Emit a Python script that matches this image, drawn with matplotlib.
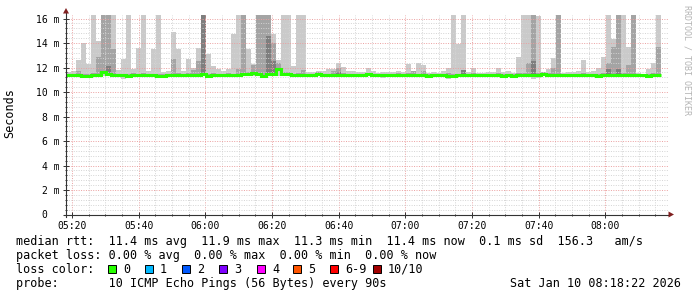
import numpy as np
import matplotlib
matplotlib.use('Agg')
import matplotlib.pyplot as plt
from matplotlib.patches import Rectangle, Polygon
from matplotlib.transforms import ScaledTranslation

# --- data (ms), one value per 90 s step starting 05:18:12 ---
median = [11.35, 11.35, 11.35, 11.30, 11.30, 11.35, 11.35, 11.65, 11.45, 11.37,
          11.37, 11.37, 11.32, 11.40, 11.40, 11.42, 11.42, 11.35, 11.30, 11.30,
          11.35, 11.40, 11.40, 11.35, 11.40, 11.40, 11.40, 11.45, 11.30, 11.40,
          11.40, 11.40, 11.40, 11.35, 11.35, 11.45, 11.45, 11.55, 11.45, 11.30,
          11.50, 11.50, 11.90, 11.45, 11.45, 11.35, 11.40, 11.40, 11.37, 11.37,
          11.50, 11.35, 11.37, 11.37, 11.37, 11.37, 11.37, 11.37, 11.35, 11.40,
          11.45, 11.40, 11.40, 11.35, 11.40, 11.40, 11.40, 11.37, 11.40, 11.40,
          11.37, 11.40, 11.30, 11.37, 11.40, 11.40, 11.33, 11.33, 11.40, 11.37,
          11.40, 11.40, 11.37, 11.40, 11.40, 11.37, 11.40, 11.32, 11.35, 11.30,
          11.40, 11.40, 11.40, 11.35, 11.40, 11.45, 11.40, 11.37, 11.40, 11.40,
          11.40, 11.37, 11.40, 11.40, 11.42, 11.40, 11.30, 11.37, 11.42, 11.40,
          11.40, 11.40, 11.37, 11.40, 11.35, 11.37, 11.30, 11.40, 11.37]

# lowest ping
ping_min = [11.25, 11.25, 11.25, 11.20, 11.22, 11.25, 11.25, 11.30, 11.30, 11.28,
            11.28, 11.10, 11.22, 11.30, 11.30, 11.32, 11.32, 11.25, 11.20, 11.22,
            11.25, 11.30, 11.30, 11.25, 11.30, 11.30, 11.30, 11.30, 11.20, 11.30,
            11.30, 11.30, 11.30, 11.25, 11.25, 11.30, 11.30, 11.30, 11.30, 11.20,
            11.30, 11.30, 11.30, 11.30, 11.30, 11.25, 11.30, 11.30, 11.28, 11.28,
            11.30, 11.25, 11.28, 11.28, 11.28, 11.28, 11.28, 11.28, 11.25, 11.30,
            11.30, 11.30, 11.30, 11.15, 11.30, 11.30, 11.30, 11.28, 11.30, 11.30,
            11.28, 11.30, 11.20, 11.28, 11.30, 11.30, 11.10, 11.22, 11.30, 11.28,
            11.30, 11.30, 11.28, 11.30, 11.20, 11.28, 11.30, 11.22, 11.25, 11.20,
            11.30, 11.30, 11.30, 11.10, 11.15, 11.30, 11.30, 11.28, 11.30, 11.30,
            11.30, 11.28, 11.30, 11.30, 11.30, 11.30, 11.20, 11.28, 11.30, 11.30,
            11.30, 11.30, 11.28, 11.30, 11.25, 11.28, 11.15, 11.30, 11.28]

# highest ping (10th of 10)
ping_max = [11.65, 11.75, 12.60, 14.00, 12.25, 16.50, 14.20, 16.50, 16.50, 16.50,
            11.80, 12.70, 16.50, 11.90, 13.60, 16.50, 11.70, 13.50, 16.50, 11.65,
            11.70, 14.90, 13.50, 11.70, 12.70, 12.00, 13.60, 16.50, 13.10, 12.10,
            11.90, 11.70, 11.90, 14.70, 16.50, 16.50, 13.50, 12.30, 16.50, 16.50,
            16.50, 14.70, 12.60, 16.50, 16.50, 12.10, 16.50, 16.50, 11.65, 11.60,
            11.70, 11.70, 11.85, 11.90, 12.40, 12.05, 11.70, 11.75, 11.60, 11.60,
            12.00, 11.75, 11.55, 11.60, 11.60, 11.65, 11.70, 11.65, 12.30, 11.75,
            12.40, 12.20, 11.55, 11.60, 11.55, 11.75, 12.00, 16.50, 13.95, 16.50,
            11.65, 12.00, 11.55, 11.55, 11.65, 11.60, 12.00, 11.60, 11.75, 11.55,
            12.85, 16.50, 16.50, 16.50, 16.20, 11.65, 11.90, 12.80, 16.50, 11.55,
            11.60, 11.65, 11.70, 12.65, 11.65, 11.75, 12.00, 12.90, 16.50, 14.30,
            16.50, 16.50, 13.70, 16.50, 11.55, 11.50, 11.90, 12.40, 16.50]

# 9th ping
ping_9 = [11.50, 11.50, 11.70, 11.50, 11.45, 11.55, 12.90, 16.50, 16.50, 13.50,
          11.50, 11.50, 11.50, 11.55, 11.50, 11.55, 11.50, 11.50, 11.45, 11.45,
          11.50, 12.70, 11.55, 11.50, 11.55, 11.80, 12.50, 16.50, 11.45, 11.55,
          11.50, 11.50, 11.55, 11.50, 11.90, 16.50, 11.60, 12.20, 16.50, 16.50,
          16.50, 14.00, 12.40, 11.60, 11.60, 11.50, 11.55, 11.80, 11.50, 11.50,
          11.60, 11.50, 11.50, 11.70, 12.00, 11.55, 11.50, 11.50, 11.50, 11.50,
          11.55, 11.50, 11.50, 11.45, 11.50, 11.50, 11.55, 11.50, 11.55, 11.70,
          11.50, 11.70, 11.45, 11.50, 11.50, 11.50, 11.55, 11.50, 11.50, 11.80,
          11.50, 11.55, 11.50, 11.50, 11.50, 11.50, 11.55, 11.45, 11.50, 11.45,
          11.55, 11.55, 12.40, 16.50, 11.55, 11.60, 11.55, 12.00, 16.50, 11.50,
          11.50, 11.50, 11.50, 11.55, 11.50, 11.50, 11.45, 11.55, 12.40, 13.70,
          16.50, 11.55, 12.20, 16.50, 11.45, 11.45, 11.50, 11.55, 13.70]

# 8th ping
ping_8 = [11.42, 11.42, 11.42, 11.38, 11.38, 11.42, 11.45, 11.75, 12.10, 11.45,
          11.45, 11.45, 11.40, 11.48, 11.48, 11.50, 11.48, 11.42, 11.38, 11.38,
          11.42, 11.50, 11.48, 11.42, 11.48, 11.48, 11.50, 16.50, 11.38, 11.48,
          11.48, 11.48, 11.48, 11.42, 11.42, 11.55, 11.52, 11.62, 11.55, 11.40,
          14.60, 12.50, 11.98, 11.52, 11.52, 11.42, 11.48, 11.48, 11.45, 11.45,
          11.58, 11.42, 11.45, 11.45, 11.60, 11.45, 11.45, 11.45, 11.42, 11.48,
          11.52, 11.48, 11.48, 11.42, 11.48, 11.48, 11.48, 11.45, 11.48, 11.48,
          11.45, 11.48, 11.38, 11.45, 11.48, 11.48, 11.40, 11.40, 11.48, 11.80,
          11.48, 11.48, 11.45, 11.48, 11.48, 11.45, 11.48, 11.40, 11.42, 11.38,
          11.48, 11.48, 11.48, 12.50, 11.48, 11.52, 11.48, 11.45, 11.48, 11.48,
          11.48, 11.45, 11.48, 11.48, 11.50, 11.48, 11.38, 11.45, 11.90, 11.48,
          11.90, 11.48, 11.45, 11.48, 11.42, 11.45, 11.38, 11.48, 11.45]

start_min = 18.2      # 05:18:12, minutes after 05:00
step_min = 1.5        # 90 s
x_ticks = [20, 40, 60, 80, 100, 120, 140, 160, 180]
x_labels = ['05:20', '05:40', '06:00', '06:20', '06:40', '07:00', '07:20', '07:40', '08:00']
y_ticks = [0, 2, 4, 6, 8, 10, 12, 14, 16]
y_labels = ['0', '2 m', '4 m', '6 m', '8 m', '10 m', '12 m', '14 m', '16 m']

rtt_stats = ['11.4 ms avg', '11.9 ms max', '11.3 ms min', '11.4 ms now', '0.1 ms sd']
loss_stats = ['0.00 % avg', '0.00 % max', '0.00 % min', '0.00 % now']
loss_names = ['0', '1', '2', '3', '4', '5', '6-9', '10/10']
loss_colors = ['#26ff00', '#00b8ff', '#0059ff', '#7e00ff', '#ff00ff', '#ff5500', '#ff0000', '#a10000']
smoke_colors = ['#cacaca', '#a4a4a4', '#7e7e7e']

W, H = 697, 297
fig = plt.figure(figsize=(W / 100, H / 100), dpi=100)
fig.patch.set_facecolor('white')


def fx(px):
    return px / W


def fy(py):
    return 1 - py / H


AX_L, AX_R, AX_T, AX_B = 66, 668, 15, 214.5
ax = fig.add_axes([fx(AX_L), fy(AX_B), (AX_R - AX_L) / W, (AX_B - AX_T) / H])

n = len(median)
edges = start_min + step_min * np.arange(n + 1)


def ext(a):
    a = np.asarray(a, dtype=float)
    return np.append(a, a[-1])


# smoke bands, outer (light) to inner (dark)
ax.fill_between(edges, ext(ping_min), ext(ping_max), step='post',
                color=smoke_colors[0], linewidth=0, zorder=1)
ax.fill_between(edges, ext(median), ext(ping_9), step='post',
                color=smoke_colors[1], linewidth=0, zorder=1.1)
ax.fill_between(edges, ext(median), ext(ping_8), step='post',
                color=smoke_colors[2], linewidth=0, zorder=1.2)

ax.step(edges, ext(median), where='post', color=loss_colors[0], lw=2.2,
        solid_joinstyle='miter', solid_capstyle='butt', zorder=4)

ax.set_xlim(start_min, start_min + 602 / 3.3333)
ax.set_ylim(0, 16.29)

ax.set_xticks(x_ticks)
ax.set_xticklabels(x_labels)
ax.set_xticks(np.arange(20, 199, 5), minor=True)
ax.set_yticks(y_ticks)
ax.set_yticklabels(y_labels)
ax.set_yticks(np.arange(0, 16.3, 0.4), minor=True)

ax.grid(which='minor', color='#d4d4d4', linestyle=(0, (1, 1.5)), linewidth=0.7)
ax.grid(which='major', color='#eba0a0', linestyle=(0, (1, 1.5)), linewidth=0.7)
ax.set_axisbelow(False)
for gl in ax.get_xgridlines() + ax.get_ygridlines():
    gl.set_zorder(3)

for s in ax.spines.values():
    s.set_visible(False)

tick_font = dict(family='DejaVu Sans Mono', size=7)
ax.tick_params(which='major', direction='inout', length=4, width=0.7, color='#333333',
               pad=2.5, labelsize=7)
ax.tick_params(which='minor', direction='inout', length=2, width=0.7, color='#333333')
for lab in ax.get_xticklabels() + ax.get_yticklabels():
    lab.set_fontfamily('DejaVu Sans Mono')
# the "0" label sits two character widths further left
zero = ax.get_yticklabels()[0]
zero.set_transform(zero.get_transform() + ScaledTranslation(-0.13, 0, fig.dpi_scale_trans))

# axis lines with arrows
ax.plot([0, 0], [-2 / 199.5, 1 + 4 / 199.5], transform=ax.transAxes, color='#333333',
        lw=0.8, clip_on=False, zorder=5)
ax.plot([-2 / 602, 1 + 2 / 602], [0, 0], transform=ax.transAxes, color='#333333',
        lw=0.8, clip_on=False, zorder=5)
fig.add_artist(Polygon([[fx(66), fy(8)], [fx(63), fy(13.5)], [fx(69), fy(13.5)]],
                       closed=True, transform=fig.transFigure, color='#801f1f', lw=0))
fig.add_artist(Polygon([[fx(674), fy(214.5)], [fx(668.5), fy(211.5)], [fx(668.5), fy(217.5)]],
                       closed=True, transform=fig.transFigure, color='#801f1f', lw=0))

mono = 'DejaVu Sans Mono'
fs = 8.5
fig.text(fx(10), fy(113), 'Seconds', rotation=90, ha='center', va='center',
         family=mono, size=fs)
fig.text(fx(687), fy(60), 'RRDTOOL / TOBI OETIKER', rotation=270, ha='center',
         va='center', family=mono, size=6, color='#b4b4b4')

line1 = 'median rtt:  ' + '  '.join(rtt_stats) + '  156.3   am/s'
line2 = 'packet loss: ' + '  '.join(loss_stats)
fig.text(fx(16), fy(245), line1, family=mono, size=fs, va='baseline')
fig.text(fx(16), fy(259), line2, family=mono, size=fs, va='baseline')
fig.text(fx(16), fy(273), 'loss color:', family=mono, size=fs, va='baseline')

box_x = [108, 145, 182, 219, 257, 293, 330, 373]
for bx, name, col in zip(box_x, loss_names, loss_colors):
    fig.add_artist(Rectangle((fx(bx), fy(273)), 7.5 / W, 8 / H, transform=fig.transFigure,
                             facecolor=col, edgecolor='black', lw=0.7))
    fig.text(fx(bx + 15), fy(273), name, family=mono, size=fs, va='baseline')

fig.text(fx(16), fy(287), 'probe:       10 ICMP Echo Pings (56 Bytes) every 90s',
         family=mono, size=fs, va='baseline')
fig.text(fx(681), fy(287), 'Sat Jan 10 08:18:22 2026', family=mono, size=fs,
         va='baseline', ha='right')

fig.savefig('out.png', dpi=100, facecolor='white')
